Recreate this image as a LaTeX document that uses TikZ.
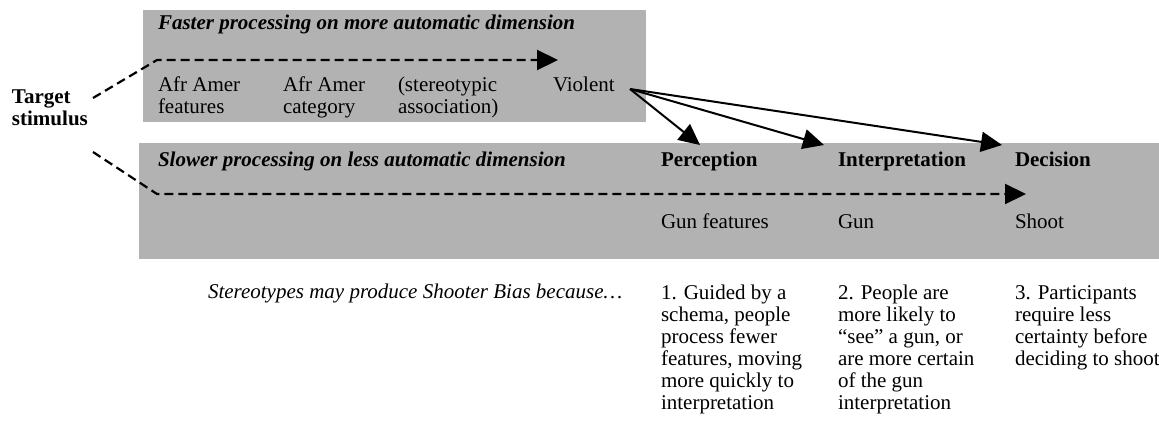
\documentclass[tikz,border=0pt]{standalone}
\usepackage{fontspec}
\setmainfont{Liberation Serif}
\usetikzlibrary{arrows.meta}
\begin{document}
\begin{tikzpicture}[x=1pt,y=-1pt,
  every node/.style={inner sep=0pt, outer sep=0pt, anchor=base west, align=left, font=\fontsize{21}{22}\selectfont},
  panel/.style={fill=black!30, draw=none, anchor=north west},
  hdr/.style={font=\fontsize{21}{22}\selectfont\bfseries\itshape},
  boldlbl/.style={font=\fontsize{21}{22}\selectfont\bfseries},
  itlbl/.style={font=\fontsize{21}{22}\selectfont\itshape},
  dsh/.style={line width=2.2pt, dash pattern=on 9pt off 5pt, -{Triangle[length=21pt,width=20pt]}},
  sol/.style={line width=2pt, -{Triangle[length=21pt,width=20pt]}}
]
\useasboundingbox (0,0) rectangle (1159,429);
% panels
\node[panel, minimum width=503pt, minimum height=112pt] (fast) at (143,10) {};
\node[panel, minimum width=1020pt, minimum height=116pt] (slow) at (139,143) {};
% top panel texts (multi-line nodes are placed by the baseline of their last line)
\node[hdr] (fasth) at (158,29) {Faster processing on more automatic dimension};
\node (aaf) at (158,113) {Afr Amer\\features};
\node (aac) at (283,113) {Afr Amer\\category};
\node (sa) at (398,113) {(stereotypic\\association)};
\node (viol) at (553,91) {Violent};
% target
\node[boldlbl] (target) at (12,125) {Target\\stimulus};
% lower panel texts
\node[hdr] (slowh) at (158,166) {Slower processing on less automatic dimension};
\node[boldlbl] (perc) at (661,166) {Perception};
\node[boldlbl] (interp) at (838,166) {Interpretation};
\node[boldlbl] (dec) at (1015,166) {Decision};
\node (gunf) at (661,228) {Gun features};
\node (gun) at (838,228) {Gun};
\node (shoot) at (1015,228) {Shoot};
% bottom texts
\node[itlbl] (stereo) at (208,298) {Stereotypes may produce Shooter Bias because…};
\node (r1) at (661,409) {1. Guided by a\\schema, people\\process fewer\\features, moving\\more quickly to\\interpretation};
\node (r2) at (838,409) {2. People are\\more likely to\\“see” a gun, or\\are more certain\\of the gun\\interpretation};
\node (r3) at (1015,365) {3. Participants\\require less\\certainty before\\deciding to shoot};
% connector points
\coordinate (t1) at (93,98);
\coordinate (b1) at (157,60);
\coordinate (e1) at (558,60);
\coordinate (t2) at (93,152);
\coordinate (b2) at (157,194);
\coordinate (e2) at (1026,194);
\coordinate (vo) at (630,89);
\coordinate (p1) at (700,145);
\coordinate (p2) at (824,145);
\coordinate (p3) at (1002,145);
% connectors
\draw[dsh] (t1) -- (b1) -- (e1);
\draw[dsh] (t2) -- (b2) -- (e2);
\draw[sol] (vo) -- (p1);
\draw[sol] (vo) -- (p2);
\draw[sol] (vo) -- (p3);
\end{tikzpicture}
\end{document}
